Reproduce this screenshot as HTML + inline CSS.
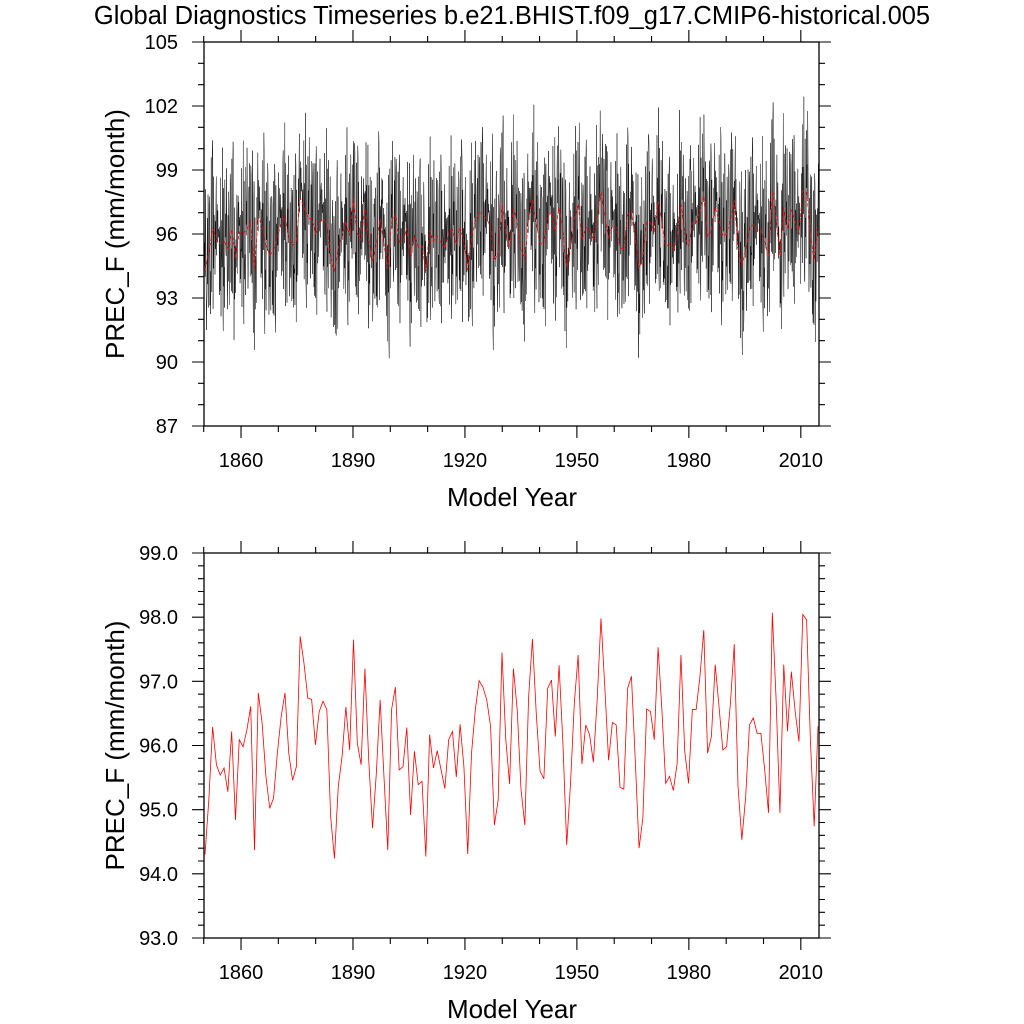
<!DOCTYPE html>
<html><head><meta charset="utf-8"><style>
html,body{margin:0;padding:0;background:#fff;}
svg{display:block;font-family:"Liberation Sans",sans-serif;}
</style></head><body>
<svg id="chart" width="1024" height="1024" viewBox="0 0 1024 1024" xmlns="http://www.w3.org/2000/svg">
<text x="512" y="24" text-anchor="middle" font-size="25.5">Global Diagnostics Timeseries b.e21.BHIST.f09_g17.CMIP6-historical.005</text>
<g id="top"></g>
<g id="bot"></g>
</svg>
<script>
const annualValues = [94.3,95.15,96.29,95.7,95.54,95.65,95.28,96.22,94.84,96.09,95.98,96.24,96.61,94.37,96.82,96.35,95.52,95.02,95.18,95.88,96.45,96.82,95.88,95.46,95.67,97.7,97.28,96.74,96.72,96.01,96.53,96.69,96.56,94.89,94.24,95.36,95.83,96.6,95.93,97.65,96.04,95.7,97.2,
95.78,94.71,95.57,96.71,95.52,94.37,96.56,96.91,95.62,95.67,96.28,94.92,95.91,95.39,95.44,94.27,96.17,95.65,95.92,95.62,95.33,96.09,96.22,95.51,96.33,95.67,94.31,95.88,96.56,97.01,96.91,96.71,96.3,94.76,95.15,97.45,96.09,95.4,97.2,96.56,95.31,94.76,
96.76,97.66,96.5,95.6,95.48,96.89,97.02,96.14,97.25,96.04,94.45,95.41,96.66,97.41,95.71,96.32,96.17,95.74,96.71,97.98,96.92,95.77,96.36,96.32,95.35,95.32,96.89,97.08,95.78,94.4,94.87,96.57,96.53,96.09,97.53,96.56,95.41,95.52,95.3,95.72,97.41,95.91,
95.41,96.56,96.56,97.08,97.8,95.88,96.14,97.26,96.61,95.93,95.98,96.66,97.58,95.36,94.53,95.2,96.32,96.43,96.19,96.19,95.62,94.95,98.07,96.71,94.95,97.26,96.22,97.15,96.53,96.06,98.04,97.96,96.09,94.74,96.3];
const monthlyAnomalies = [-2.1,1.4,3.2,-0.6,-3.4,0.9,2.6,-1.2,0.3,4.1,-2.8,1.1,-0.4,2.2,-3.1,0.7,3.6,-1.8,-0.2,1.9,-2.5,2.9,0.5,-3.8,1.6,-1.1,3.0,-0.9,0.2,-2.4,2.4,-1.5,4.4,-0.7,-2.9,1.3,0.8,-1.9,2.7,-3.3,1.0,3.3,-0.3,-2.2,0.6,2.1,-4.2,1.7,-1.3,3.8,-0.8,0.4,-2.6,2.5,-0.1,-3.0,1.8,3.1,-1.6,0.1];
const topTicks = [87,90,93,96,99,102,105];
const botTicks = ["93.0","94.0","95.0","96.0","97.0","98.0","99.0"];
const yearTicks = [1860,1890,1920,1950,1980,2010];

const NS="http://www.w3.org/2000/svg";
function mk(parent,tag,attrs){const e=document.createElementNS(NS,tag);for(const k in attrs)e.setAttribute(k,attrs[k]);parent.appendChild(e);return e;}
const L=204,R=819;
function xYear(yr){return 203.7+(yr-1850)*3.732;}
function xIdx(i){return 205+i*(613/(annualValues.length-1));}

function panel(g,T,B,ymin,ymax,majorStep,minorStep,tickLabels,prefix){
  const ys=v=>B-(v-ymin)/(ymax-ymin)*(B-T);
  let d='';
  const nMin=Math.round((ymax-ymin)/minorStep);
  for(let k=0;k<=nMin;k++){const v=ymin+k*minorStep;const y=ys(v);const maj=Math.abs((v-ymin)/majorStep-Math.round((v-ymin)/majorStep))<1e-6;const len=maj?12:6;d+=`M${L-len} ${y}H${L}M${R} ${y}H${R+len}`;}
  for(let yr=1850;yr<=2015;yr+=10){const x=xYear(yr);const maj=(yr-1860)%30===0;const len=maj?12:6;d+=`M${x} ${B}V${B+len}M${x} ${T}V${T-len}`;}
  const tk=mk(g,'path',{d:d,stroke:'#000','stroke-width':1.1,fill:'none'});
  
  
  tickLabels.forEach((lab,k)=>{const t=mk(g,'text',{x:178,y:ys(ymin+k*majorStep)+7,'text-anchor':'end','font-size':20});t.textContent=lab;
    
    });
  yearTicks.forEach(yr=>{const t=mk(g,'text',{x:xYear(yr),y:B+41,'text-anchor':'middle','font-size':20});t.textContent=yr;
    
    });
  const xt=mk(g,'text',{x:512,y:B+80,'text-anchor':'middle','font-size':26});xt.textContent='Model Year';
  
  
  const cy=(T+B)/2;
  const yt=mk(g,'text',{x:124,y:cy,'text-anchor':'middle','font-size':26,transform:`rotate(-90 124 ${cy})`});yt.textContent='PREC_F (mm/month)';
  
  
  g._frame=()=>{const frame=mk(g,'rect',{x:L,y:T,width:R-L,height:B-T,fill:'none',stroke:'#000','stroke-width':1.3});
    
    };
  return ys;
}

// top panel
const gt=document.getElementById('top');
const ysT=panel(gt,42,426,87,105,3,1,topTicks.map(String),'top');
let pd='';let c=0;
annualValues.forEach((v,i)=>{for(let m=0;m<12;m++){const a=monthlyAnomalies[(i*17+m*7)%monthlyAnomalies.length];let x=xIdx(i)+(m-5.5)/12*(613/(annualValues.length-1));x=Math.max(L,Math.min(R,x));pd+=(c++?'L':'M')+x.toFixed(2)+' '+ysT(v+a).toFixed(2);}});
const ml=mk(gt,'path',{d:pd,stroke:'#000','stroke-width':0.45,fill:'none'});


const at=mk(gt,'path',{d:annualValues.map((v,i)=>(i?'L':'M')+xIdx(i).toFixed(2)+' '+ysT(v).toFixed(2)).join(''),stroke:'#ff0000','stroke-width':0.8,fill:'none','stroke-dasharray':'4 2'});


gt._frame();

// bottom panel
const gb=document.getElementById('bot');
const ysB=panel(gb,553,938,93,99,1,0.2,botTicks,'bottom');
const ab=mk(gb,'path',{d:annualValues.map((v,i)=>(i?'L':'M')+xIdx(i).toFixed(2)+' '+ysB(v).toFixed(2)).join(''),stroke:'#ff0000','stroke-width':0.8,fill:'none'});


gb._frame();
</script>
</body></html>
